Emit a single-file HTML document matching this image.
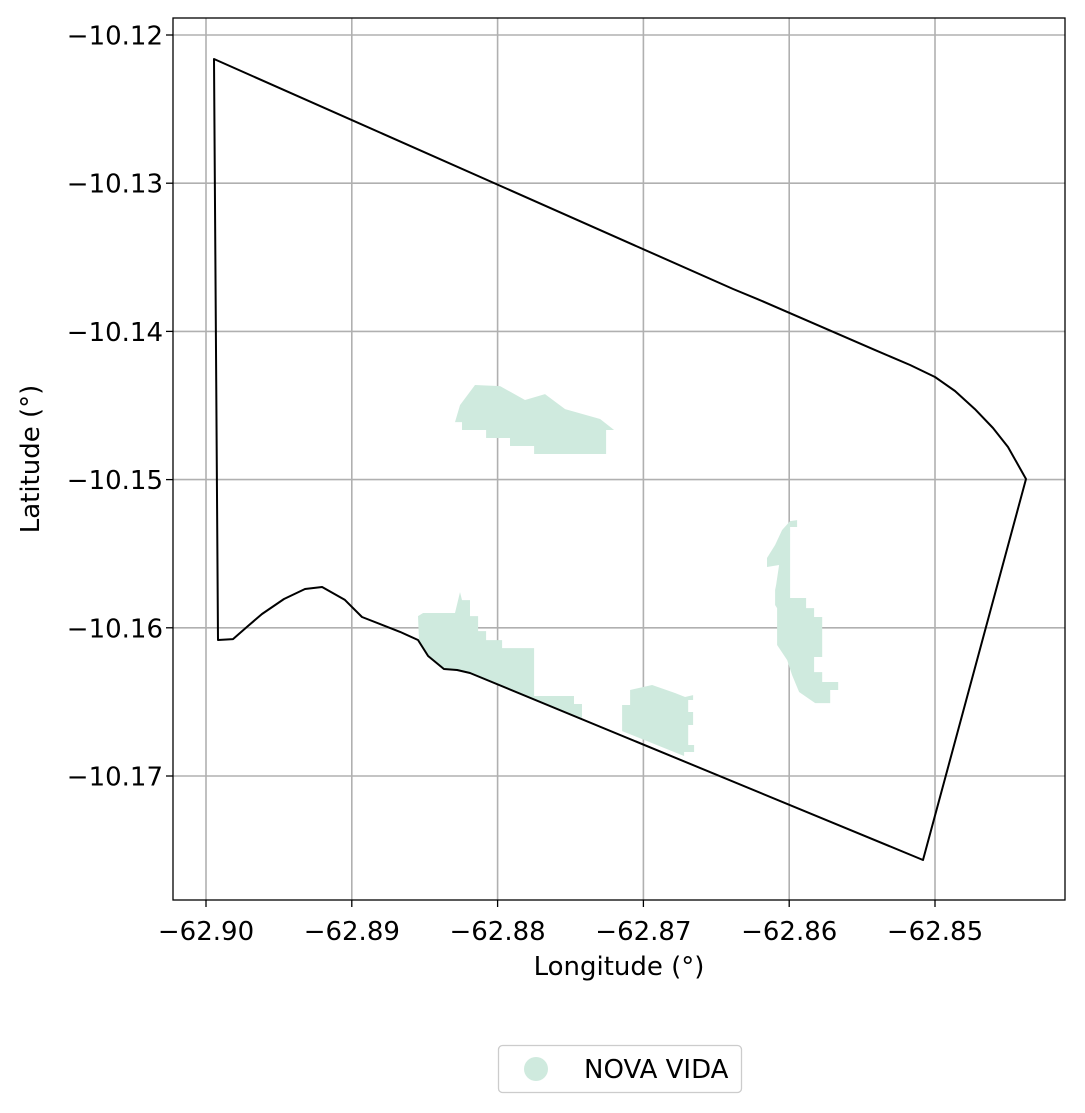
<!DOCTYPE html>
<html><head><meta charset="utf-8"><style>
body{margin:0;background:#fff;}
svg{display:block;font-family:"DejaVu Sans","Liberation Sans",sans-serif;}
</style></head><body>
<svg id="chart" width="1085" height="1113" viewBox="0 0 1085 1113">
<rect x="0" y="0" width="1085" height="1113" fill="#fff"/>
<g id="grid"></g>
<g id="shapes"></g>
<g id="outline"></g>
<rect x="173" y="18" width="892" height="882" fill="none" stroke="#000" stroke-width="1.3"/>
<g id="ticks"></g>
<text x="619" y="975" text-anchor="middle" font-size="26">Longitude (°)</text>
<text transform="translate(39,459) rotate(-90)" text-anchor="middle" font-size="26">Latitude (°)</text>
<g>
<rect x="498.5" y="1045.5" width="243" height="47" rx="4" fill="#fff" stroke="#ccc" stroke-width="1.3"/>
<circle cx="536" cy="1069" r="12" fill="#cfeade"/>
<text x="584" y="1078" font-size="26">NOVA VIDA</text>
</g>
</svg>
<script>
const xTicks=[-62.90,-62.89,-62.88,-62.87,-62.86,-62.85];
const xTickLabels=["−62.90","−62.89","−62.88","−62.87","−62.86","−62.85"];
const yTicks=[-10.12,-10.13,-10.14,-10.15,-10.16,-10.17];
const yTickLabels=["−10.12","−10.13","−10.14","−10.15","−10.16","−10.17"];
const outlineLon=[-62.89945,-62.86385,-62.86220,-62.85411,-62.85171,-62.85,-62.84863,-62.84726,-62.84602,-62.84499,-62.84376,-62.85082,-62.88189,-62.88278,-62.88368,-62.88477,-62.88546,-62.88669,-62.88930,-62.89047,-62.89204,-62.89321,-62.89465,-62.89616,-62.89712,-62.89815,-62.89918];
const outlineLat=[-10.12162,-10.13714,-10.13781,-10.14126,-10.14227,-10.14308,-10.14402,-10.14524,-10.14652,-10.14780,-10.14996,-10.17567,-10.16305,-10.16285,-10.16278,-10.16190,-10.16082,-10.16028,-10.15927,-10.15812,-10.15725,-10.15738,-10.15806,-10.15907,-10.15988,-10.16076,-10.16082];
const areaALon=[-62.88292,-62.88258,-62.88155,-62.87983,-62.87812,-62.87675,-62.87537,-62.87297,-62.87201,-62.87256,-62.87256,-62.8775,-62.8775,-62.87915,-62.87915,-62.88079,-62.88079,-62.88244,-62.88244];
const areaALat=[-10.14612,-10.14497,-10.14362,-10.14369,-10.14463,-10.14423,-10.14524,-10.14591,-10.14665,-10.14665,-10.14827,-10.14827,-10.14773,-10.14773,-10.14719,-10.14719,-10.14665,-10.14665,-10.14612];
const areaBLon=[-62.88539,-62.88546,-62.88511,-62.88292,-62.88258,-62.88244,-62.88189,-62.88189,-62.88134,-62.88134,-62.88079,-62.88079,-62.87969,-62.87969,-62.8775,-62.8775,-62.87476,-62.87476,-62.87421,-62.87421,-62.88189,-62.88367,-62.88477];
const areaBLat=[-10.16083,-10.15921,-10.159,-10.159,-10.15759,-10.15813,-10.15813,-10.15921,-10.15921,-10.16022,-10.16022,-10.16083,-10.16083,-10.16137,-10.16137,-10.1646,-10.1646,-10.16514,-10.16514,-10.16609,-10.16305,-10.16278,-10.1619];
const areaCLon=[-62.87146,-62.87146,-62.87091,-62.87091,-62.8694,-62.86783,-62.86714,-62.86659,-62.86659,-62.86693,-62.86693,-62.86659,-62.86659,-62.86693,-62.86693,-62.86652,-62.86652,-62.86721,-62.86721];
const areaCLat=[-10.16697,-10.16521,-10.16521,-10.1642,-10.16386,-10.1644,-10.16467,-10.16454,-10.16487,-10.16487,-10.16568,-10.16568,-10.16656,-10.16656,-10.16791,-10.16791,-10.16838,-10.16838,-10.16865];
const areaDLon=[-62.85994,-62.85946,-62.85946,-62.85994,-62.85994,-62.85884,-62.85884,-62.85829,-62.85829,-62.85774,-62.85774,-62.85829,-62.85829,-62.85774,-62.85774,-62.85664,-62.85664,-62.85719,-62.85719,-62.85822,-62.85932,-62.8598,-62.86014,-62.86083,-62.86083,-62.86097,-62.86097,-62.8609,-62.86069,-62.86152,-62.86152,-62.86097,-62.86049];
const areaDLat=[-10.1528,-10.15273,-10.1532,-10.1532,-10.15799,-10.15799,-10.15867,-10.15867,-10.15927,-10.15927,-10.16197,-10.16197,-10.16299,-10.16299,-10.16366,-10.16366,-10.1642,-10.1642,-10.16508,-10.16508,-10.16433,-10.16319,-10.16218,-10.16116,-10.15867,-10.15846,-10.15745,-10.15711,-10.15576,-10.1559,-10.15529,-10.15441,-10.1534];

const NS="http://www.w3.org/2000/svg";
function sx(lon){return 206+(lon+62.90)/0.01*145.8;}
function sy(lat){return 35+(-10.12-lat)/0.01*148.2;}
function mk(tag,attrs,parent){const e=document.createElementNS(NS,tag);for(const k in attrs)e.setAttribute(k,attrs[k]);parent.appendChild(e);return e;}
const grid=document.getElementById('grid'),ticks=document.getElementById('ticks');
xTicks.forEach((v,i)=>{const x=sx(v);
 const g=mk('line',{x1:x,x2:x,y1:18,y2:900,stroke:'#b0b0b0','stroke-width':1.6},grid);
 
 
 const t=mk('line',{x1:x,x2:x,y1:900,y2:907,stroke:'#000','stroke-width':1.3},ticks);
 
 
 const l=mk('text',{x:x,y:940,'text-anchor':'middle','font-size':26},ticks);l.textContent=xTickLabels[i];
 
 
});
yTicks.forEach((v,i)=>{const y=sy(v);
 const g=mk('line',{x1:173,x2:1065,y1:y,y2:y,stroke:'#b0b0b0','stroke-width':1.6},grid);
 
 
 const t=mk('line',{x1:166,x2:173,y1:y,y2:y,stroke:'#000','stroke-width':1.3},ticks);
 
 
 const l=mk('text',{x:163,y:y+9.5,'text-anchor':'end','font-size':26},ticks);l.textContent=yTickLabels[i];
 
 
});
function pts(lo,la){return lo.map((v,i)=>sx(v).toFixed(1)+','+sy(la[i]).toFixed(1)).join(' ');}
const shapes=document.getElementById('shapes');
[[areaALon,areaALat,'area-north'],[areaBLon,areaBLat,'area-southwest'],[areaCLon,areaCLat,'area-south'],[areaDLon,areaDLat,'area-east']].forEach(s=>{
 const p=mk('polygon',{points:pts(s[0],s[1]),fill:'#cfeade'},shapes);
 
 
});
const o=mk('polygon',{points:pts(outlineLon,outlineLat),fill:'none',stroke:'#000','stroke-width':2,'stroke-linejoin':'round'},document.getElementById('outline'));


</script>
</body></html>
